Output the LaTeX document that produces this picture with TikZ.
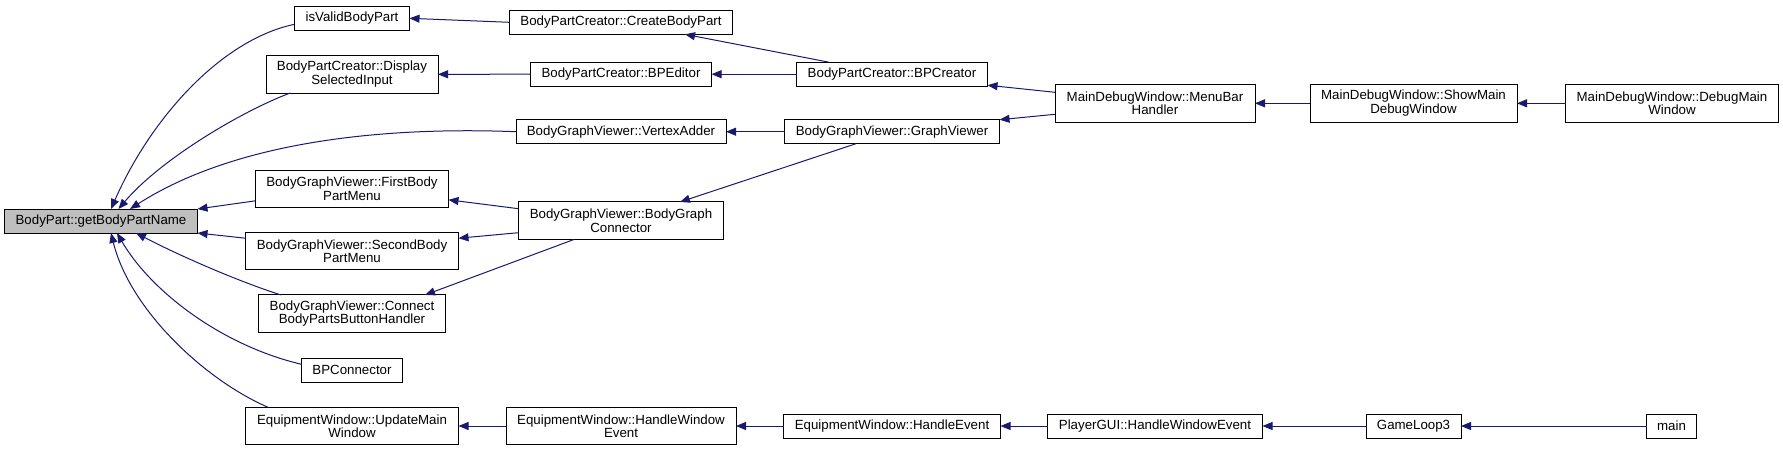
\documentclass[tikz,border=0pt]{standalone}
\usepackage{fontspec}
\setmainfont{Liberation Sans}
\usetikzlibrary{arrows.meta, positioning}
\definecolor{edgeBlue}{HTML}{191970}
\definecolor{rootGray}{HTML}{BFBFBF}
\tikzset{
  fnBox/.style = {rectangle, draw=black, line width=1pt, fill=white,
    inner sep=2pt, outer sep=0pt, minimum height=24pt,
    align=center, font=\fontsize{13.3}{13.5}\selectfont},
  twoLine/.style = {minimum height=37.5pt},
  fnRoot/.style = {fnBox, fill=rootGray},
  call/.style = {-{Triangle[length=10pt, width=8pt]}, line width=1pt, draw=edgeBlue},
}
\begin{document}
\begin{tikzpicture}[x=1pt, y=-1pt]
\useasboundingbox (0,0) rectangle (1783,451);
\node[fnRoot, minimum width=193pt] (bp) at (101,221) {BodyPart::getBodyPartName};
\node[fnBox, minimum width=115pt] (ivp) at (352,18.3) {isValidBodyPart};
\node[fnBox, twoLine, minimum width=172pt] (dsi) at (352,74.3) {BodyPartCreator::Display\\SelectedInput};
\node[fnBox, twoLine, minimum width=193pt] (fbm) at (352,188.8) {BodyGraphViewer::FirstBody\\PartMenu};
\node[fnBox, twoLine, minimum width=213pt] (sbm) at (352,251.2) {BodyGraphViewer::SecondBody\\PartMenu};
\node[fnBox, twoLine, minimum width=187pt] (cbh) at (352,313.7) {BodyGraphViewer::Connect\\BodyPartsButtonHandler};
\node[fnBox, minimum width=101pt] (bpc) at (352,370.3) {BPConnector};
\node[fnBox, twoLine, minimum width=213pt] (umw) at (352,426) {EquipmentWindow::UpdateMain\\Window};
\node[fnBox, minimum width=223pt] (cbp) at (621,22.3) {BodyPartCreator::CreateBodyPart};
\node[fnBox, minimum width=181pt] (bpe) at (621,74.2) {BodyPartCreator::BPEditor};
\node[fnBox, minimum width=210pt] (va) at (621,131.7) {BodyGraphViewer::VertexAdder};
\node[fnBox, twoLine, minimum width=205pt] (bgc) at (621,220.7) {BodyGraphViewer::BodyGraph\\Connector};
\node[fnBox, twoLine, minimum width=230pt] (hwe) at (621,426) {EquipmentWindow::HandleWindow\\Event};
\node[fnBox, minimum width=191pt] (bpcr) at (892,74.2) {BodyPartCreator::BPCreator};
\node[fnBox, minimum width=215pt] (gv) at (892,131.7) {BodyGraphViewer::GraphViewer};
\node[fnBox, minimum width=217pt] (he) at (892,426) {EquipmentWindow::HandleEvent};
\node[fnBox, twoLine, minimum width=200pt] (mbh) at (1155,103.3) {MainDebugWindow::MenuBar\\Handler};
\node[fnBox, minimum width=215pt] (pgui) at (1155,426) {PlayerGUI::HandleWindowEvent};
\node[fnBox, twoLine, minimum width=207pt] (smdw) at (1413.5,103.3) {MainDebugWindow::ShowMain\\DebugWindow};
\node[fnBox, minimum width=95pt] (gl3) at (1413.5,426) {GameLoop3};
\node[fnBox, twoLine, minimum width=213pt] (dmw) at (1672,103.3) {MainDebugWindow::DebugMain\\Window};
\node[fnBox, minimum width=50pt] (main) at (1671.5,426) {main};

\draw[call] ([yshift=-6pt]ivp.west) .. controls (220,40) and (150,120) .. ([xshift=10pt]bp.north);
\draw[call] ([xshift=-62pt]dsi.south) .. controls (240,112) and (160,160) .. ([xshift=17.5pt]bp.north);
\draw[call] (va.west) .. controls (370,126) and (230,145) .. ([xshift=29pt]bp.north);
\draw[call] ([yshift=-12pt]fbm.west) -- (bp.north east);
\draw[call] ([yshift=13pt]sbm.west) -- (bp.south east);
\draw[call] ([xshift=-71pt]cbh.north) .. controls (240,282) and (180,256) .. ([xshift=35pt]bp.south);
\draw[call] ([yshift=6pt]bpc.west) .. controls (220,345) and (150,290) .. ([xshift=16pt]bp.south);
\draw[call] ([xshift=-84pt]umw.north) .. controls (205,380) and (130,310) .. ([xshift=10pt]bp.south);
\draw[call] (cbp.west) -- (ivp.east);
\draw[call] (bpe.west) -- (dsi.east);
\draw[call] (gv.west) -- (va.east);
\draw[call] ([yshift=12pt]bgc.west) -- ([yshift=-11pt]fbm.east);
\draw[call] ([yshift=-12pt]bgc.west) -- ([yshift=13pt]sbm.east);
\draw[call] ([xshift=-47pt]bgc.south) -- ([xshift=73pt]cbh.north);
\draw[call] (hwe.west) -- (umw.east);
\draw[call] ([xshift=-63pt]bpcr.north) -- ([xshift=64pt]cbp.south);
\draw[call] (bpcr.west) -- (bpe.east);
\draw[call] ([xshift=-36pt]gv.south) -- ([xshift=59pt]bgc.north);
\draw[call] (he.west) -- (hwe.east);
\draw[call] ([yshift=11pt]mbh.west) -- ([yshift=-11pt]bpcr.east);
\draw[call] ([yshift=-11pt]mbh.west) -- (gv.north east);
\draw[call] (smdw.west) -- (mbh.east);
\draw[call] (dmw.west) -- (smdw.east);
\draw[call] (pgui.west) -- (he.east);
\draw[call] (gl3.west) -- (pgui.east);
\draw[call] (main.west) -- (gl3.east);
\end{tikzpicture}
\end{document}
